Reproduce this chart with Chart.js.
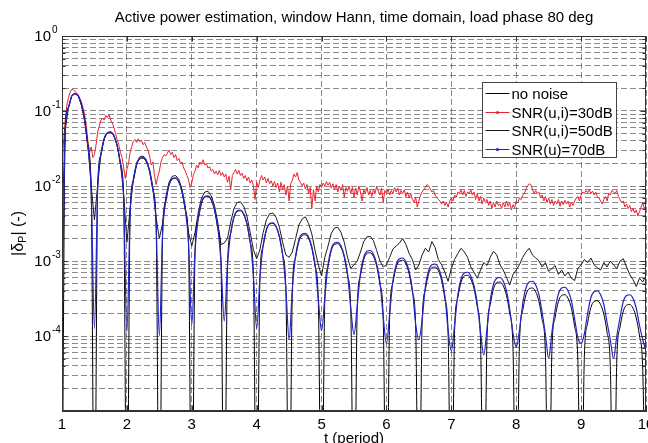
<!DOCTYPE html>
<html>
<head>
<meta charset="utf-8">
<title>Active power estimation</title>
<script src="https://cdn.jsdelivr.net/npm/chart.js@4.4.1/dist/chart.umd.min.js"></script>
<style>
  html, body { margin: 0; padding: 0; background: #fff; }
  #chart { display: block; }
</style>
</head>
<body>
<canvas id="chart" width="648" height="443"></canvas>
<script>
/* ── data (log10 of |δP|) ───────────────────────────────
   one row per half period starting at t = 1, 1.5, 2 ... ;
   the last row holds the single value at t = 10 */
var tStart      = 1;
var halfPeriod  = 0.5;
var smoothStep  = 0.05;
var noisyStep   = 0.025;

var seriesNames = ['no noise', 'SNR(u,i)=30dB', 'SNR(u,i)=50dB', 'SNR(u)=70dB'];
var xTicks      = [1, 2, 3, 4, 5, 6, 7, 8, 9, 10];
var yDecades    = [-5, -4, -3, -2, -1, 0];
var yLabelExps  = [0, -1, -2, -3, -4];
var yMinor      = [2, 3, 4, 5, 6, 7, 8, 9];

// -7 = exact zero of the noiseless curve (below the axis)
var noNoiseLog = [
  [-7, -1.25, -0.95, -0.80, -0.77, -0.80, -0.92, -1.13, -1.48, -2.05],
  [-7, -2.02, -1.58, -1.37, -1.29, -1.28, -1.33, -1.46, -1.70, -2.16],
  [-7, -2.37, -1.93, -1.72, -1.64, -1.63, -1.68, -1.81, -2.05, -2.51],
  [-7, -2.64, -2.20, -1.99, -1.91, -1.90, -1.95, -2.08, -2.32, -2.78],
  [-7, -2.88, -2.44, -2.23, -2.15, -2.14, -2.19, -2.32, -2.56, -3.02],
  [-7, -3.07, -2.63, -2.42, -2.34, -2.33, -2.38, -2.51, -2.75, -3.21],
  [-7, -3.24, -2.80, -2.59, -2.51, -2.50, -2.55, -2.68, -2.92, -3.38],
  [-7, -3.39, -2.95, -2.74, -2.66, -2.65, -2.70, -2.83, -3.07, -3.53],
  [-7, -3.51, -3.07, -2.86, -2.78, -2.77, -2.82, -2.95, -3.19, -3.65],
  [-7, -3.63, -3.19, -2.98, -2.90, -2.89, -2.94, -3.07, -3.31, -3.77],
  [-7, -3.73, -3.29, -3.08, -3.00, -2.99, -3.04, -3.17, -3.41, -3.87],
  [-7, -3.82, -3.38, -3.17, -3.09, -3.08, -3.13, -3.26, -3.50, -3.96],
  [-7, -3.93, -3.49, -3.28, -3.20, -3.19, -3.24, -3.37, -3.61, -4.07],
  [-7, -4.02, -3.58, -3.37, -3.29, -3.28, -3.33, -3.46, -3.70, -4.16],
  [-7, -4.10, -3.66, -3.45, -3.37, -3.36, -3.41, -3.54, -3.78, -4.24],
  [-7, -4.19, -3.75, -3.54, -3.46, -3.45, -3.50, -3.63, -3.87, -4.33],
  [-7, -4.27, -3.83, -3.62, -3.54, -3.53, -3.58, -3.71, -3.95, -4.41],
  [-7, -4.32, -3.88, -3.67, -3.59, -3.58, -3.63, -3.76, -4.00, -4.46],
  [-7]
];

var snr30Log = [
  [-1.80, -1.40, -1.12, -0.92, -0.82, -0.75, -0.71, -0.72, -0.74, -0.76, -0.78, -0.83, -0.88, -0.96, -1.05, -1.20, -1.40, -1.55, -1.48, -1.62],
  [-1.58, -1.45, -1.28, -1.20, -1.12, -1.10, -1.12, -1.06, -1.09, -1.05, -1.12, -1.16, -1.22, -1.30, -1.38, -1.45, -1.55, -1.62, -1.75, -1.90],
  [-1.78, -1.70, -1.55, -1.47, -1.40, -1.38, -1.42, -1.37, -1.41, -1.39, -1.45, -1.42, -1.48, -1.52, -1.60, -1.72, -1.68, -1.85, -1.98, -1.88],
  [-1.80, -1.68, -1.62, -1.58, -1.60, -1.56, -1.52, -1.58, -1.55, -1.62, -1.58, -1.66, -1.63, -1.70, -1.68, -1.76, -1.80, -1.86, -1.92, -2.02],
  [-1.96, -1.85, -1.80, -1.72, -1.76, -1.68, -1.71, -1.65, -1.72, -1.70, -1.76, -1.74, -1.80, -1.78, -1.84, -1.80, -1.85, -1.79, -1.86, -1.82],
  [-1.88, -1.84, -1.95, -1.87, -2.05, -1.86, -1.82, -1.78, -1.84, -1.79, -1.86, -1.83, -1.90, -1.86, -1.93, -1.88, -1.96, -1.92, -2.00, -2.18],
  [-1.95, -2.02, -1.92, -1.86, -1.92, -1.88, -1.96, -1.90, -1.97, -1.93, -2.00, -1.94, -2.02, -1.96, -2.08, -1.95, -2.05, -1.98, -2.12, -2.00],
  [-2.20, -1.97, -1.92, -1.84, -1.88, -1.82, -1.92, -1.95, -2.00, -1.96, -2.04, -1.98, -2.10, -2.02, -2.30, -2.05, -2.20, -2.00, -2.08, -1.98],
  [-2.02, -1.96, -2.00, -1.94, -1.99, -1.95, -2.03, -1.97, -2.05, -1.98, -2.08, -2.00, -2.06, -1.98, -2.15, -2.02, -2.07, -2.00, -2.10, -2.02],
  [-2.15, -2.03, -2.12, -2.00, -2.08, -2.20, -2.05, -2.10, -2.02, -2.12, -2.06, -2.14, -2.04, -2.10, -2.00, -2.07, -2.12, -2.03, -2.22, -2.06],
  [-2.10, -2.04, -2.12, -2.06, -2.10, -2.02, -2.08, -2.03, -2.12, -2.06, -2.10, -2.05, -2.14, -2.08, -2.16, -2.10, -2.18, -2.22, -2.15, -2.28],
  [-2.20, -2.12, -2.08, -2.05, -2.02, -1.98, -2.00, -2.04, -2.08, -2.06, -2.12, -2.15, -2.18, -2.20, -2.24, -2.20, -2.26, -2.22, -2.28, -2.20],
  [-2.16, -2.20, -2.12, -2.15, -2.08, -2.10, -2.05, -2.12, -2.06, -2.14, -2.08, -2.10, -2.05, -2.12, -2.08, -2.18, -2.10, -2.20, -2.14, -2.24],
  [-2.16, -2.22, -2.18, -2.26, -2.20, -2.30, -2.22, -2.28, -2.20, -2.26, -2.24, -2.30, -2.22, -2.28, -2.20, -2.27, -2.22, -2.32, -2.25, -2.29],
  [-2.20, -2.22, -2.16, -2.18, -2.12, -2.10, -2.04, -2.00, -1.97, -1.98, -2.04, -2.10, -2.06, -2.10, -2.08, -2.16, -2.12, -2.20, -2.14, -2.22],
  [-2.16, -2.24, -2.18, -2.26, -2.20, -2.24, -2.18, -2.27, -2.20, -2.25, -2.19, -2.24, -2.20, -2.28, -2.22, -2.26, -2.20, -2.16, -2.14, -2.20],
  [-2.12, -2.08, -2.10, -2.06, -2.09, -2.05, -2.10, -2.07, -2.12, -2.08, -2.14, -2.16, -2.20, -2.24, -2.18, -2.14, -2.20, -2.10, -2.12, -2.06],
  [-2.08, -2.10, -2.06, -2.14, -2.18, -2.22, -2.20, -2.28, -2.24, -2.30, -2.26, -2.34, -2.30, -2.36, -2.32, -2.40, -2.34, -2.28, -2.22, -2.30],
  [-2.26]
];

var snr50Log = [
  [-2.50, -1.25, -0.95, -0.80, -0.77, -0.80, -0.92, -1.13, -1.47, -2.00],
  [-2.45, -1.98, -1.57, -1.37, -1.29, -1.28, -1.33, -1.46, -1.69, -2.10],
  [-2.75, -2.30, -1.90, -1.69, -1.61, -1.60, -1.65, -1.78, -2.02, -2.42],
  [-2.70, -2.50, -2.15, -1.95, -1.87, -1.86, -1.91, -2.05, -2.28, -2.62],
  [-2.80, -2.62, -2.35, -2.16, -2.08, -2.07, -2.13, -2.26, -2.48, -2.78],
  [-2.76, -2.70, -2.48, -2.30, -2.22, -2.21, -2.27, -2.40, -2.62, -2.85],
  [-2.97, -2.85, -2.62, -2.45, -2.37, -2.36, -2.42, -2.55, -2.75, -2.92],
  [-2.95, -2.88, -2.70, -2.52, -2.44, -2.41, -2.50, -2.64, -2.86, -3.05],
  [-3.20, -2.95, -2.80, -2.63, -2.56, -2.55, -2.62, -2.75, -2.95, -3.10],
  [-3.05, -3.00, -2.88, -2.74, -2.68, -2.67, -2.73, -2.86, -3.00, -3.08],
  [-3.05, -2.95, -2.84, -2.80, -2.76, -2.70, -2.78, -2.90, -2.98, -3.12],
  [-3.05, -2.92, -2.83, -2.88, -2.74, -2.82, -2.98, -3.05, -3.15, -3.27],
  [-3.10, -2.98, -2.90, -2.83, -2.88, -2.95, -3.08, -3.15, -3.23, -3.12],
  [-3.02, -3.06, -2.95, -2.87, -2.92, -3.05, -3.12, -3.22, -3.32, -3.18],
  [-3.12, -3.05, -2.95, -2.88, -2.83, -2.92, -2.96, -3.00, -3.08, -3.02],
  [-3.14, -3.10, -3.06, -3.18, -3.12, -3.20, -3.15, -3.23, -3.26, -3.10],
  [-3.05, -2.98, -3.02, -2.96, -3.05, -3.09, -3.12, -3.02, -3.08, -3.00],
  [-3.05, -3.10, -3.00, -2.97, -3.08, -3.18, -3.25, -3.34, -3.23, -3.28],
  [-3.20]
];

var snr70Log = [
  [-4.00, -1.25, -0.95, -0.80, -0.77, -0.80, -0.92, -1.13, -1.48, -2.05],
  [-3.90, -2.02, -1.58, -1.37, -1.29, -1.28, -1.33, -1.46, -1.70, -2.16],
  [-3.95, -2.36, -1.92, -1.71, -1.63, -1.62, -1.67, -1.80, -2.04, -2.50],
  [-4.00, -2.63, -2.19, -1.98, -1.90, -1.89, -1.94, -2.07, -2.31, -2.77],
  [-3.85, -2.87, -2.43, -2.22, -2.14, -2.13, -2.18, -2.31, -2.55, -3.01],
  [-3.80, -3.06, -2.62, -2.41, -2.33, -2.32, -2.37, -2.50, -2.74, -3.20],
  [-3.90, -3.23, -2.79, -2.58, -2.50, -2.49, -2.54, -2.67, -2.91, -3.37],
  [-4.05, -3.37, -2.93, -2.72, -2.64, -2.63, -2.68, -2.81, -3.05, -3.51],
  [-3.93, -3.49, -3.05, -2.84, -2.76, -2.75, -2.80, -2.93, -3.17, -3.63],
  [-3.98, -3.60, -3.16, -2.95, -2.87, -2.86, -2.91, -3.04, -3.28, -3.74],
  [-4.10, -3.70, -3.26, -3.05, -2.97, -2.96, -3.01, -3.14, -3.38, -3.84],
  [-4.05, -3.78, -3.34, -3.13, -3.05, -3.04, -3.09, -3.22, -3.46, -3.92],
  [-4.20, -3.86, -3.45, -3.24, -3.16, -3.15, -3.20, -3.33, -3.57, -3.95],
  [-4.25, -3.90, -3.52, -3.31, -3.23, -3.22, -3.27, -3.40, -3.64, -3.96],
  [-4.15, -3.92, -3.57, -3.36, -3.28, -3.27, -3.32, -3.45, -3.69, -3.98],
  [-4.30, -3.95, -3.65, -3.44, -3.36, -3.35, -3.40, -3.53, -3.77, -4.02],
  [-4.10, -3.97, -3.70, -3.49, -3.41, -3.40, -3.45, -3.58, -3.82, -4.05],
  [-4.30, -4.00, -3.75, -3.54, -3.46, -3.45, -3.50, -3.63, -3.86, -4.05],
  [-4.20]
];

var seriesColors = ['#000000', 'rgb(232,36,48)', '#1a1a1a', 'rgb(36,36,200)'];
var legendDots   = [false, true, false, true];

var FONT = '"Liberation Sans", Arial, Helvetica, sans-serif';

/* ── rows -> {x,y} points ───────────────────────────── */
function toPoints(rows, step) {
  var pts = [];
  rows.forEach(function (row, r) {
    row.forEach(function (e, j) {
      pts.push({ x: tStart + r * halfPeriod + j * step, y: Math.pow(10, e) });
    });
  });
  return pts;
}

/* ── MATLAB-style decorations: box, inward ticks, y labels, legend ── */
var decorPlugin = {
  id: 'decor',
  afterDraw: function (chart) {
    var ctx = chart.ctx, ca = chart.chartArea;
    var xs = chart.scales.x, ys = chart.scales.y;
    var L = Math.round(ca.left) + 0.5, R = Math.round(ca.right) - 0.5;
    var T = Math.round(ca.top) + 0.5,  B = Math.round(ca.bottom) - 0.5;

    ctx.save();
    ctx.setLineDash([]);
    ctx.lineWidth = 1;
    ctx.strokeStyle = '#333';
    ctx.strokeRect(L, T, R - L, B - T);

    // inward ticks
    ctx.beginPath();
    xTicks.forEach(function (v) {
      var x = Math.round(xs.getPixelForValue(v)) + 0.5;
      ctx.moveTo(x, B); ctx.lineTo(x, B - 5);
      ctx.moveTo(x, T); ctx.lineTo(x, T + 5);
    });
    ys.ticks.forEach(function (tk) {
      var y = Math.round(ys.getPixelForValue(tk.value)) + 0.5;
      var len = tk.major ? 5 : 3;
      ctx.moveTo(L, y); ctx.lineTo(L + len, y);
      ctx.moveTo(R, y); ctx.lineTo(R - len, y);
    });
    ctx.stroke();

    // y tick labels 10^n
    ctx.fillStyle = '#000';
    ctx.textBaseline = 'middle';
    yLabelExps.forEach(function (e) {
      var y = ys.getPixelForValue(Math.pow(10, e));
      ctx.font = '15px ' + FONT;
      ctx.textAlign = 'right';
      ctx.fillText('10', ca.left - 11, y + 1);
      ctx.font = '10px ' + FONT;
      ctx.textAlign = 'left';
      ctx.fillText(String(e), ca.left - 10, y - 6);
    });

    // y axis title |δP| (-)
    ctx.save();
    var cy = (ca.top + ca.bottom) / 2 + 10;
    ctx.translate(19, cy);
    ctx.rotate(-Math.PI / 2);
    var big = '16px ' + FONT, small = '11px ' + FONT;
    var parts = [['|\u03b4', big, 0], ['P', small, 4], ['| (-)', big, 0]];
    var total = 0;
    parts.forEach(function (p) { ctx.font = p[1]; total += ctx.measureText(p[0]).width; });
    var px = -total / 2;
    ctx.textAlign = 'left';
    parts.forEach(function (p) {
      ctx.font = p[1];
      ctx.fillText(p[0], px, p[2]);
      px += ctx.measureText(p[0]).width;
    });
    ctx.restore();

    // legend
    var lx = Math.round(ca.right) - 163.5, ly = Math.round(ca.top) + 46.5;
    var lw = 134, lh = 75;
    ctx.fillStyle = '#fff';
    ctx.fillRect(lx, ly, lw, lh);
    ctx.strokeStyle = '#444';
    ctx.strokeRect(lx, ly, lw, lh);
    ctx.font = '15px ' + FONT;
    ctx.textAlign = 'left';
    ctx.textBaseline = 'middle';
    seriesNames.forEach(function (name, i) {
      var y = Math.round(ly + 10.5 + i * 18.5) + 0.5;
      ctx.strokeStyle = seriesColors[i];
      ctx.beginPath();
      ctx.moveTo(lx + 3, y); ctx.lineTo(lx + 27, y);
      ctx.stroke();
      if (legendDots[i]) {
        ctx.fillStyle = seriesColors[i];
        ctx.beginPath();
        ctx.arc(lx + 15, y, 1.6, 0, 2 * Math.PI);
        ctx.fill();
      }
      ctx.fillStyle = '#000';
      ctx.fillText(name, lx + 29, y + 1);
    });
    ctx.restore();
  }
};

var gridStyle   = { color: 'rgba(60,60,60,0.6)', lineWidth: 1, drawTicks: false };
var borderStyle = { display: true, color: '#333', width: 1, dash: [6, 3] };

new Chart(document.getElementById('chart'), {
  type: 'line',
  data: {
    datasets: [
      { label: seriesNames[0], data: toPoints(noNoiseLog, smoothStep), borderColor: seriesColors[0],
        borderWidth: 1, pointRadius: 0, cubicInterpolationMode: 'monotone', order: 1 },
      { label: seriesNames[1], data: toPoints(snr30Log, noisyStep), borderColor: seriesColors[1],
        borderWidth: 1, pointRadius: 0, tension: 0, order: 3 },
      { label: seriesNames[2], data: toPoints(snr50Log, smoothStep), borderColor: seriesColors[2],
        borderWidth: 1, pointRadius: 0, tension: 0, order: 2 },
      { label: seriesNames[3], data: toPoints(snr70Log, smoothStep), borderColor: seriesColors[3],
        borderWidth: 1.2, pointRadius: 0, cubicInterpolationMode: 'monotone', order: 0 }
    ]
  },
  options: {
    responsive: false,
    devicePixelRatio: 1,
    animation: false,
    layout: { padding: { top: 0, right: 2, bottom: 0, left: 0 } },
    plugins: {
      legend:  { display: false },
      tooltip: { enabled: false },
      title: {
        display: true,
        fullSize: false,
        text: 'Active power estimation, window Hann, time domain, load phase 80 deg',
        color: '#000',
        font: { family: FONT, size: 15, weight: 'normal' },
        padding: { top: 9, bottom: 9 }
      }
    },
    scales: {
      x: {
        type: 'linear',
        min: 1,
        max: 10,
        grid: gridStyle,
        border: borderStyle,
        afterBuildTicks: function (s) {
          s.ticks = xTicks.map(function (v) { return { value: v }; });
        },
        afterFit: function (s) {
          s.height = 32;
          s.paddingLeft = 0;
          s.paddingRight = 0;
        },
        ticks: {
          color: '#000',
          padding: 5,
          maxRotation: 0,
          autoSkip: false,
          font: { family: FONT, size: 15 }
        },
        title: {
          display: true,
          text: 't (period)',
          color: '#000',
          font: { family: FONT, size: 15 },
          padding: { top: 0, bottom: -5 }
        }
      },
      y: {
        type: 'logarithmic',
        min: 1e-5,
        max: 1,
        grid: gridStyle,
        border: borderStyle,
        afterBuildTicks: function (s) {
          var t = [];
          yDecades.forEach(function (d, i) {
            t.push({ value: Math.pow(10, d), major: true });
            if (i < yDecades.length - 1) {
              yMinor.forEach(function (m) { t.push({ value: m * Math.pow(10, d), major: false }); });
            }
          });
          s.ticks = t;
        },
        afterFit: function (s) {
          s.width = 62;
          s.paddingTop = 0;
          s.paddingBottom = 0;
        },
        ticks: { display: false }
      }
    }
  },
  plugins: [decorPlugin]
});
</script>
</body>
</html>
